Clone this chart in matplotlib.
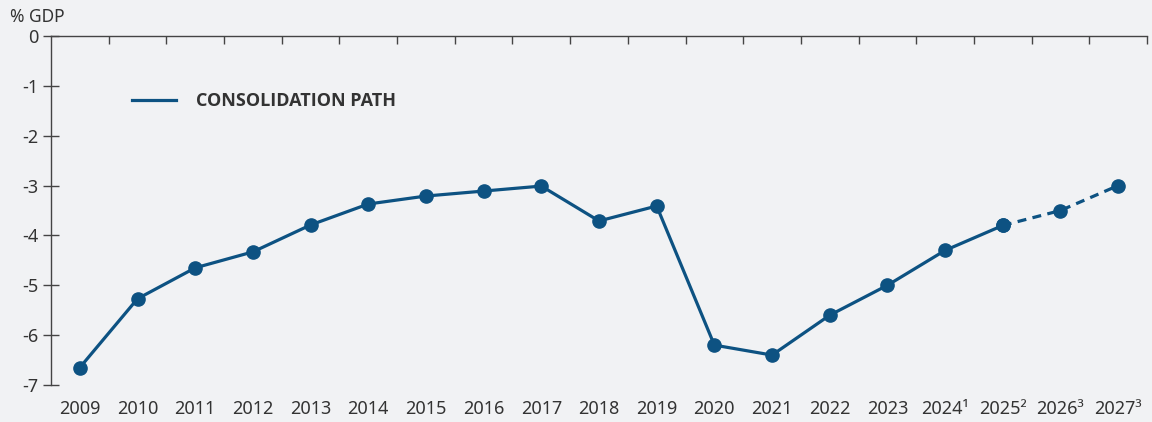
import matplotlib
matplotlib.use("Agg")
import matplotlib.pyplot as plt
from matplotlib.lines import Line2D

years = ["2009", "2010", "2011", "2012", "2013", "2014", "2015", "2016", "2017",
         "2018", "2019", "2020", "2021", "2022", "2023", "2024¹", "2025²", "2026³", "2027³"]
values = [-6.65, -5.27, -4.65, -4.33, -3.79, -3.37, -3.21, -3.11, -3.01,
          -3.71, -3.41, -6.2, -6.4, -5.6, -5.0, -4.3, -3.8, -3.5, -3.0]
n_actual = 17  # solid up to 2025, dashed afterwards
yticks = [0, -1, -2, -3, -4, -5, -6, -7]

bg = "#f1f2f4"
line_color = "#0d5282"
text_color = "#333333"

plt.rcParams['font.family'] = ['Noto Sans', 'DejaVu Sans']

fig = plt.figure(figsize=(11.52, 4.22), dpi=100, facecolor=bg)
ax = fig.add_axes([51/1152, 1-385/422, (1147-51)/1152, (385-36)/422])
ax.set_facecolor(bg)

x = list(range(len(years)))
ax.plot(x[:n_actual], values[:n_actual], color=line_color, lw=2.3, marker='o',
        markersize=9.5, zorder=3)
ax.plot(x[n_actual-1:], values[n_actual-1:], color=line_color, lw=2.3, ls=(0, (2.8, 2.0)),
        marker='o', markersize=9.5, zorder=3)

ax.set_xlim(-0.5, len(years)-0.5)
ax.set_ylim(-7, 0)

for s in ['right', 'bottom']:
    ax.spines[s].set_visible(False)
for s in ['left', 'top']:
    ax.spines[s].set_color('#444444')
    ax.spines[s].set_linewidth(1.0)

ax.set_yticks(yticks)
ax.set_yticklabels([str(v) for v in yticks])
ax.tick_params(axis='y', direction='inout', length=11.5, width=1.0, color='#444444',
               labelsize=13, labelcolor=text_color, pad=3)

ax.set_xticks(x)
ax.set_xticklabels(years)
ax.tick_params(axis='x', which='major', length=0, labelsize=13, labelcolor=text_color, pad=11)
ax.set_xticks([i + 0.5 for i in range(len(years))], minor=True)
ax.tick_params(axis='x', which='minor', bottom=False, top=True, direction='in',
               length=5.5, width=1.0, color='#444444')

fig.text(10/1152, 1-17/422, "% GDP", fontsize=12.5, color=text_color, va='center', ha='left')

handle = Line2D([], [], color=line_color, lw=2.3)
leg = ax.legend([handle], ["CONSOLIDATION PATH"], loc='center left',
                bbox_to_anchor=((116-51)/1096, 1-(101-36)/349), frameon=False,
                handlelength=2.45, handletextpad=1.1,
                prop={'family': ['Open Sans', 'DejaVu Sans'], 'weight': 'bold', 'size': 13})
for t in leg.get_texts():
    t.set_color(text_color)

fig.savefig("out.png", dpi=100, facecolor=bg)
